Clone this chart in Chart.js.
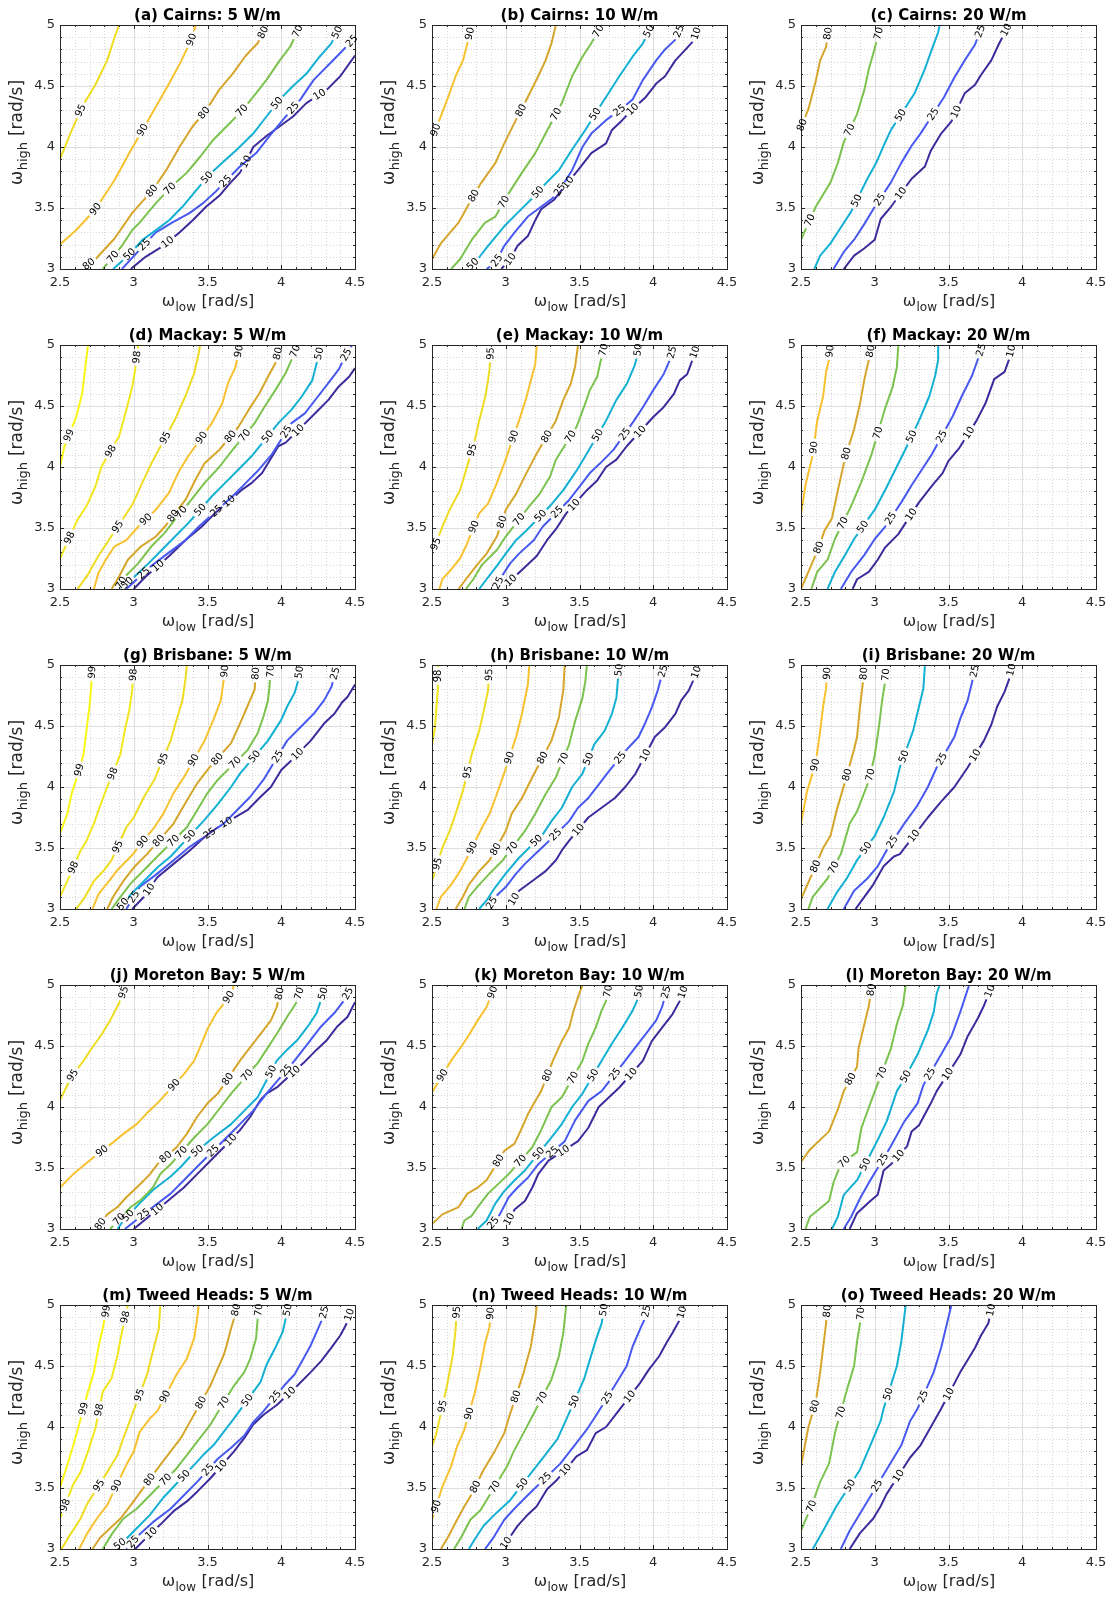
<!DOCTYPE html>
<html>
<head>
<meta charset="utf-8">
<script src="https://cdn.jsdelivr.net/npm/chart.js@4.4.1/dist/chart.umd.min.js"></script>
<style>
  html, body { margin: 0; padding: 0; background: #fff; overflow: hidden; }
  #grid { position: relative; width: 1116px; height: 1597px; }
  #grid canvas { position: absolute; }
</style>
</head>
<body>
<div id="grid"></div>
<script>
// axis ticks shared by all panels
const xTicks = [2.5, 3, 3.5, 4, 4.5];
const yTicks = [3, 3.5, 4, 4.5, 5];
const minorStep = 0.1;

// ---- Cairns ----
const cairns5Levels = [95, 90, 80, 70, 50, 25, 10];
const cairns5Lines = [
  [[2.5,3.9],[2.57,4.11],[2.65,4.33],[2.74,4.51],[2.82,4.71],[2.87,4.9],[2.9,5.0]],
  [[2.5,3.2],[2.61,3.32],[2.74,3.49],[2.87,3.73],[2.97,3.95],[3.06,4.14],[3.15,4.33],[3.24,4.52],[3.32,4.7],[3.39,4.88],[3.42,5.0]],
  [[2.65,3.0],[2.74,3.08],[2.87,3.25],[2.99,3.46],[3.13,3.65],[3.22,3.81],[3.31,4.0],[3.4,4.17],[3.49,4.3],[3.58,4.47],[3.67,4.6],[3.76,4.75],[3.84,4.85],[3.9,5.0]],
  [[2.79,3.0],[2.92,3.19],[2.99,3.32],[3.04,3.38],[3.15,3.54],[3.26,3.68],[3.36,3.79],[3.45,3.92],[3.54,4.06],[3.63,4.17],[3.72,4.28],[3.81,4.41],[3.9,4.55],[3.99,4.71],[4.06,4.82],[4.13,5.0]],
  [[2.86,3.0],[2.98,3.13],[3.06,3.24],[3.13,3.3],[3.24,3.4],[3.33,3.51],[3.42,3.64],[3.51,3.77],[3.6,3.87],[3.7,3.98],[3.81,4.11],[3.9,4.25],[3.99,4.39],[4.08,4.5],[4.17,4.6],[4.26,4.74],[4.34,4.85],[4.4,4.99]],
  [[2.92,3.0],[3.08,3.21],[3.15,3.3],[3.26,3.38],[3.38,3.46],[3.47,3.54],[3.56,3.64],[3.63,3.73],[3.72,3.84],[3.83,3.95],[3.92,4.09],[4.01,4.22],[4.13,4.39],[4.22,4.55],[4.31,4.66],[4.4,4.77],[4.47,4.86],[4.5,4.9]],
  [[2.98,3.0],[3.08,3.1],[3.2,3.19],[3.31,3.3],[3.4,3.4],[3.49,3.51],[3.58,3.6],[3.65,3.7],[3.72,3.79],[3.77,3.9],[3.81,4.0],[3.9,4.09],[3.99,4.17],[4.08,4.25],[4.17,4.36],[4.31,4.47],[4.4,4.58],[4.5,4.75]]
];
const cairns5LabelAt = [[4.3], [3.49, 4.14, 4.88], [3.04, 3.64, 4.28, 4.94], [3.1, 3.66, 4.3, 4.95], [3.12, 3.75, 4.36, 4.94], [3.2, 3.72, 4.32, 4.87], [3.22, 3.88, 4.43]];

const cairns10Levels = [90, 80, 70, 50, 25, 10];
const cairns10Lines = [
  [[2.5,4.06],[2.55,4.22],[2.61,4.41],[2.66,4.58],[2.71,4.71],[2.74,4.85],[2.77,5.0]],
  [[2.5,3.08],[2.56,3.21],[2.68,3.38],[2.74,3.51],[2.83,3.7],[2.93,3.87],[2.99,4.03],[3.06,4.2],[3.15,4.41],[3.22,4.58],[3.27,4.71],[3.31,4.85],[3.34,5.0]],
  [[2.63,3.0],[2.69,3.08],[2.77,3.24],[2.86,3.38],[2.93,3.43],[3.02,3.62],[3.11,3.79],[3.2,3.95],[3.27,4.11],[3.38,4.36],[3.45,4.58],[3.52,4.74],[3.58,4.85],[3.65,5.0]],
  [[2.74,3.0],[2.81,3.08],[2.88,3.19],[2.99,3.35],[3.08,3.46],[3.18,3.58],[3.27,3.7],[3.36,3.81],[3.45,3.98],[3.54,4.14],[3.6,4.26],[3.68,4.41],[3.77,4.58],[3.86,4.74],[3.93,4.85],[3.99,5.0]],
  [[2.87,3.0],[2.93,3.05],[2.99,3.19],[3.06,3.3],[3.15,3.43],[3.24,3.51],[3.34,3.6],[3.45,3.81],[3.52,4.0],[3.58,4.11],[3.68,4.22],[3.77,4.3],[3.86,4.39],[3.93,4.55],[4.02,4.71],[4.08,4.8],[4.15,4.88],[4.19,5.0]],
  [[2.97,3.0],[3.03,3.08],[3.08,3.19],[3.15,3.27],[3.2,3.4],[3.24,3.49],[3.33,3.57],[3.4,3.68],[3.49,3.81],[3.58,3.95],[3.68,4.03],[3.72,4.14],[3.79,4.22],[3.86,4.31],[3.95,4.41],[4.02,4.52],[4.08,4.58],[4.15,4.71],[4.22,4.8],[4.28,4.88],[4.3,4.97]]
];
const cairns10LabelAt = [[4.14, 4.93], [3.6, 4.3], [3.55, 4.27, 4.95], [3.04, 3.63, 4.27, 4.95], [3.07, 3.65, 4.3, 4.95], [3.08, 3.71, 4.31, 4.93]];

const cairns20Levels = [80, 70, 50, 25, 10];
const cairns20Lines = [
  [[2.5,4.16],[2.55,4.31],[2.6,4.54],[2.63,4.71],[2.67,4.82],[2.69,5.0]],
  [[2.5,3.24],[2.6,3.51],[2.65,3.61],[2.7,3.71],[2.75,3.87],[2.79,4.04],[2.88,4.27],[2.93,4.47],[2.96,4.64],[3.0,4.81],[3.04,5.0]],
  [[2.59,3.0],[2.63,3.11],[2.7,3.21],[2.77,3.34],[2.84,3.47],[2.95,3.74],[3.01,3.87],[3.06,4.01],[3.11,4.14],[3.18,4.27],[3.27,4.44],[3.34,4.64],[3.39,4.81],[3.43,4.94],[3.44,5.0]],
  [[2.72,3.0],[2.79,3.14],[2.86,3.24],[2.93,3.37],[3.0,3.51],[3.11,3.71],[3.18,3.87],[3.25,4.01],[3.31,4.11],[3.38,4.24],[3.47,4.41],[3.54,4.57],[3.61,4.71],[3.68,4.84],[3.72,4.97]],
  [[2.79,3.0],[2.86,3.11],[2.93,3.17],[3.0,3.24],[3.04,3.41],[3.11,3.51],[3.25,3.74],[3.34,3.84],[3.38,3.97],[3.45,4.11],[3.52,4.21],[3.61,4.44],[3.68,4.51],[3.72,4.59],[3.79,4.71],[3.84,4.84],[3.87,4.91],[3.9,4.98]]
];
const cairns20LabelAt = [[4.18, 4.93], [3.4, 4.14, 4.93], [3.56, 4.26], [3.57, 4.27, 4.95], [3.62, 4.29, 4.96]];

// ---- Mackay ----
const mackay5Levels = [99, 98, 95, 90, 80, 70, 50, 25, 10];
const mackay5Lines = [
  [[2.5,4.0],[2.53,4.17],[2.61,4.41],[2.65,4.6],[2.67,4.8],[2.69,5.0]],
  [[2.5,3.25],[2.62,3.57],[2.68,3.68],[2.74,3.84],[2.78,4.0],[2.9,4.25],[2.95,4.47],[2.99,4.66],[3.01,4.8],[3.03,5.0]],
  [[2.62,3.0],[2.69,3.12],[2.76,3.27],[2.83,3.4],[2.99,3.69],[3.05,3.85],[3.12,4.03],[3.28,4.39],[3.35,4.58],[3.41,4.77],[3.44,4.93],[3.45,5.0]],
  [[2.73,3.0],[2.76,3.13],[2.81,3.24],[2.87,3.35],[2.95,3.4],[3.03,3.51],[3.15,3.65],[3.24,3.79],[3.3,3.95],[3.37,4.09],[3.53,4.36],[3.6,4.52],[3.64,4.69],[3.69,4.82],[3.72,5.0]],
  [[2.85,3.0],[2.9,3.1],[2.96,3.24],[3.05,3.35],[3.15,3.43],[3.21,3.51],[3.35,3.73],[3.42,3.9],[3.48,4.03],[3.58,4.14],[3.71,4.33],[3.78,4.47],[3.85,4.6],[3.91,4.74],[3.96,4.85],[3.99,5.0]],
  [[2.89,3.0],[2.94,3.1],[3.03,3.21],[3.12,3.35],[3.21,3.46],[3.28,3.57],[3.39,3.73],[3.48,3.87],[3.58,4.0],[3.67,4.14],[3.82,4.36],[3.89,4.5],[3.96,4.63],[4.03,4.77],[4.07,4.88],[4.11,5.0]],
  [[2.91,3.0],[3.03,3.13],[3.1,3.21],[3.19,3.32],[3.28,3.43],[3.37,3.54],[3.53,3.76],[3.62,3.87],[3.71,3.98],[3.8,4.09],[3.98,4.36],[4.07,4.47],[4.14,4.58],[4.21,4.71],[4.24,4.85],[4.27,5.0]],
  [[2.95,3.0],[3.12,3.19],[3.24,3.3],[3.35,3.4],[3.44,3.51],[3.67,3.76],[3.76,3.87],[3.85,3.98],[3.94,4.11],[4.07,4.36],[4.16,4.44],[4.25,4.58],[4.32,4.69],[4.39,4.8],[4.43,4.9],[4.48,5.0]],
  [[3.0,3.0],[3.08,3.1],[3.24,3.27],[3.35,3.4],[3.46,3.51],[3.55,3.62],[3.73,3.81],[3.8,3.87],[3.87,3.95],[3.91,4.03],[3.98,4.17],[4.03,4.2],[4.23,4.44],[4.32,4.55],[4.39,4.66],[4.46,4.74],[4.5,4.81]]
];
const mackay5LabelAt = [[4.26], [3.42, 4.13, 4.9], [3.51, 4.24], [3.57, 4.24, 4.95], [3.6, 4.25, 4.93], [3.05, 3.63, 4.26, 4.95], [3.05, 3.65, 4.25, 4.93], [3.13, 3.64, 4.29, 4.92], [3.19, 3.72, 4.3]];

const mackay10Levels = [95, 90, 80, 70, 50, 25, 10];
const mackay10Lines = [
  [[2.5,3.29],[2.57,3.51],[2.62,3.65],[2.69,3.81],[2.73,3.97],[2.79,4.22],[2.82,4.38],[2.86,4.57],[2.88,4.71],[2.89,4.8],[2.9,5.0]],
  [[2.55,3.0],[2.57,3.08],[2.63,3.16],[2.69,3.25],[2.73,3.35],[2.82,3.62],[2.88,3.7],[2.94,3.87],[2.99,4.03],[3.09,4.38],[3.14,4.57],[3.17,4.71],[3.2,4.84],[3.21,5.0]],
  [[2.68,3.0],[2.73,3.08],[2.8,3.19],[2.87,3.29],[2.94,3.43],[3.0,3.65],[3.07,3.78],[3.14,3.95],[3.21,4.11],[3.34,4.38],[3.39,4.55],[3.44,4.68],[3.47,4.82],[3.49,5.0]],
  [[2.73,3.0],[2.78,3.08],[2.84,3.2],[2.94,3.32],[3.0,3.43],[3.16,3.68],[3.23,3.78],[3.3,3.92],[3.34,4.06],[3.48,4.33],[3.53,4.49],[3.57,4.63],[3.62,4.74],[3.64,4.85],[3.67,5.0]],
  [[2.82,3.0],[2.87,3.08],[2.94,3.19],[3.0,3.29],[3.07,3.4],[3.14,3.48],[3.3,3.68],[3.39,3.81],[3.48,3.97],[3.55,4.11],[3.68,4.38],[3.75,4.55],[3.82,4.68],[3.87,4.82],[3.89,4.9],[3.9,5.0]],
  [[2.93,3.0],[2.96,3.08],[3.03,3.21],[3.09,3.29],[3.19,3.4],[3.25,3.51],[3.43,3.73],[3.5,3.84],[3.57,3.95],[3.64,4.03],[3.73,4.14],[3.87,4.38],[3.93,4.49],[4.0,4.63],[4.07,4.76],[4.11,4.87],[4.14,5.0]],
  [[2.99,3.02],[3.06,3.1],[3.14,3.19],[3.21,3.27],[3.28,3.4],[3.34,3.49],[3.41,3.62],[3.55,3.81],[3.62,3.89],[3.68,4.0],[3.75,4.06],[3.82,4.17],[4.0,4.41],[4.07,4.49],[4.14,4.6],[4.18,4.71],[4.23,4.76],[4.26,4.86],[4.29,4.97]]
];
const mackay10LabelAt = [[3.37, 4.14, 4.93], [3.51, 4.25], [3.55, 4.25], [3.57, 4.25, 4.96], [3.6, 4.26, 4.96], [3.05, 3.63, 4.27, 4.94], [3.07, 3.69, 4.29, 4.94]];

const mackay20Levels = [90, 80, 70, 50, 25, 10];
const mackay20Lines = [
  [[2.5,3.61],[2.53,3.85],[2.58,4.1],[2.61,4.38],[2.65,4.58],[2.67,4.78],[2.69,4.88],[2.7,5.0]],
  [[2.5,3.0],[2.55,3.14],[2.62,3.34],[2.66,3.48],[2.71,3.58],[2.75,3.81],[2.8,4.08],[2.86,4.31],[2.9,4.52],[2.93,4.72],[2.96,4.88],[2.98,5.0]],
  [[2.57,3.0],[2.61,3.14],[2.68,3.24],[2.73,3.41],[2.84,3.68],[2.91,3.88],[2.98,4.11],[3.07,4.48],[3.12,4.65],[3.15,4.82],[3.16,5.0]],
  [[2.68,3.0],[2.73,3.14],[2.8,3.28],[2.86,3.41],[3.0,3.65],[3.07,3.81],[3.14,3.98],[3.21,4.15],[3.3,4.38],[3.37,4.58],[3.41,4.75],[3.43,4.88],[3.43,5.0]],
  [[2.77,3.0],[2.84,3.14],[2.93,3.28],[3.0,3.41],[3.07,3.51],[3.18,3.71],[3.25,3.85],[3.32,3.98],[3.39,4.11],[3.53,4.42],[3.59,4.58],[3.66,4.75],[3.71,4.92],[3.73,5.0]],
  [[2.85,3.0],[2.88,3.08],[2.96,3.14],[3.02,3.24],[3.07,3.34],[3.16,3.45],[3.3,3.71],[3.39,3.85],[3.46,3.95],[3.5,4.05],[3.57,4.15],[3.69,4.38],[3.75,4.52],[3.81,4.72],[3.88,4.78],[3.91,4.88],[3.93,4.98]]
];
const mackay20LabelAt = [[4.16, 4.95], [3.34, 4.11, 4.95], [3.54, 4.28], [3.51, 4.25], [3.58, 4.25, 4.96], [3.61, 4.28, 4.95]];

// ---- Brisbane ----
const brisbane5Levels = [99, 98, 95, 90, 80, 70, 50, 25, 10];
const brisbane5Lines = [
  [[2.5,3.62],[2.55,3.78],[2.58,3.95],[2.61,4.06],[2.66,4.27],[2.68,4.47],[2.7,4.66],[2.71,4.8],[2.72,5.0]],
  [[2.5,3.1],[2.55,3.23],[2.64,3.48],[2.68,3.56],[2.73,3.7],[2.77,3.84],[2.82,4.0],[2.91,4.27],[2.94,4.47],[2.97,4.63],[2.99,4.8],[3.0,5.0]],
  [[2.61,3.0],[2.67,3.1],[2.73,3.23],[2.8,3.32],[2.85,3.4],[2.95,3.67],[3.0,3.75],[3.07,3.92],[3.14,4.06],[3.25,4.38],[3.29,4.55],[3.33,4.71],[3.35,4.88],[3.36,5.0]],
  [[2.72,3.0],[2.76,3.12],[2.82,3.21],[2.89,3.32],[2.98,3.43],[3.14,3.67],[3.2,3.78],[3.27,3.95],[3.34,4.08],[3.48,4.38],[3.54,4.55],[3.59,4.71],[3.61,4.88],[3.62,5.0]],
  [[2.82,3.0],[2.86,3.1],[2.93,3.23],[3.0,3.34],[3.09,3.45],[3.27,3.7],[3.36,3.89],[3.43,4.03],[3.5,4.14],[3.66,4.36],[3.72,4.52],[3.77,4.66],[3.82,4.8],[3.83,5.0]],
  [[2.85,3.0],[2.91,3.1],[2.98,3.21],[3.07,3.32],[3.16,3.43],[3.36,3.67],[3.43,3.81],[3.5,3.95],[3.57,4.06],[3.77,4.3],[3.84,4.44],[3.88,4.58],[3.91,4.71],[3.92,4.82],[3.93,5.0]],
  [[2.9,3.0],[2.98,3.12],[3.07,3.23],[3.16,3.34],[3.25,3.43],[3.48,3.73],[3.57,3.86],[3.66,4.0],[3.72,4.11],[3.91,4.38],[4.0,4.55],[4.04,4.66],[4.09,4.77],[4.11,4.85],[4.13,5.0]],
  [[2.95,3.0],[3.04,3.18],[3.16,3.29],[3.27,3.4],[3.38,3.51],[3.61,3.7],[3.7,3.81],[3.79,3.92],[3.88,4.06],[4.04,4.38],[4.13,4.49],[4.22,4.6],[4.29,4.71],[4.34,4.82],[4.38,5.0]],
  [[2.99,3.0],[3.07,3.1],[3.16,3.26],[3.27,3.37],[3.38,3.48],[3.48,3.59],[3.57,3.67],[3.77,3.81],[3.86,3.92],[3.93,4.0],[4.0,4.14],[4.07,4.22],[4.2,4.38],[4.29,4.52],[4.36,4.6],[4.41,4.69],[4.45,4.74],[4.5,4.84]]
];
const brisbane5LabelAt = [[4.14, 4.94], [3.34, 4.11, 4.92], [3.51, 4.23], [3.55, 4.22, 4.95], [3.56, 4.23, 4.93], [3.56, 4.2, 4.95], [3.04, 3.6, 4.25, 4.94], [3.1, 3.62, 4.25, 4.93], [3.16, 3.71, 4.27]];

const brisbane10Levels = [98, 95, 90, 80, 70, 50, 25, 10];
const brisbane10Lines = [
  [[2.5,4.34],[2.52,4.49],[2.53,4.65],[2.54,4.81],[2.54,5.0]],
  [[2.5,3.23],[2.57,3.5],[2.62,3.64],[2.66,3.78],[2.71,3.97],[2.77,4.27],[2.82,4.46],[2.85,4.62],[2.88,4.79],[2.89,5.0]],
  [[2.53,3.0],[2.56,3.1],[2.63,3.2],[2.68,3.29],[2.73,3.4],[2.84,3.67],[2.89,3.78],[2.93,3.91],[2.98,4.08],[3.07,4.41],[3.11,4.6],[3.15,4.84],[3.16,5.0]],
  [[2.66,3.0],[2.71,3.1],[2.75,3.2],[2.82,3.31],[2.89,3.4],[3.0,3.64],[3.04,3.78],[3.11,3.91],[3.18,4.08],[3.31,4.38],[3.36,4.57],[3.39,4.79],[3.4,5.0]],
  [[2.72,3.0],[2.75,3.1],[2.82,3.2],[2.89,3.29],[2.98,3.4],[3.13,3.64],[3.2,3.78],[3.27,3.94],[3.34,4.08],[3.43,4.35],[3.47,4.54],[3.52,4.73],[3.54,4.87],[3.55,5.0]],
  [[2.82,3.0],[2.87,3.07],[2.93,3.18],[3.0,3.29],[3.09,3.42],[3.25,3.61],[3.31,3.72],[3.38,3.83],[3.45,4.0],[3.52,4.11],[3.6,4.35],[3.67,4.46],[3.72,4.6],[3.75,4.73],[3.76,4.87],[3.77,5.0]],
  [[2.88,3.0],[2.93,3.1],[3.0,3.18],[3.07,3.29],[3.13,3.37],[3.2,3.45],[3.27,3.53],[3.43,3.72],[3.49,3.83],[3.56,3.91],[3.63,4.02],[3.7,4.13],[3.83,4.32],[3.9,4.41],[3.94,4.51],[3.99,4.65],[4.03,4.79],[4.07,4.97]],
  [[3.04,3.05],[3.09,3.15],[3.18,3.23],[3.27,3.31],[3.34,3.4],[3.38,3.48],[3.43,3.56],[3.56,3.75],[3.65,3.83],[3.74,3.91],[3.81,4.0],[3.88,4.11],[4.01,4.41],[4.08,4.49],[4.15,4.6],[4.19,4.71],[4.24,4.79],[4.27,4.87],[4.3,4.97]]
];
const brisbane10LabelAt = [[4.91], [3.37, 4.12, 4.92], [3.5, 4.24], [3.49, 4.24], [3.5, 4.23], [3.56, 4.23, 4.96], [3.05, 3.61, 4.24, 4.95], [3.08, 3.65, 4.26, 4.94]];

const brisbane20Levels = [90, 80, 70, 50, 25, 10];
const brisbane20Lines = [
  [[2.5,3.7],[2.54,3.96],[2.6,4.2],[2.63,4.46],[2.65,4.66],[2.67,4.81],[2.68,5.0]],
  [[2.5,3.08],[2.58,3.3],[2.65,3.5],[2.7,3.6],[2.74,3.8],[2.8,4.05],[2.86,4.31],[2.88,4.41],[2.9,4.66],[2.92,4.86],[2.93,5.0]],
  [[2.55,3.0],[2.58,3.1],[2.68,3.25],[2.77,3.45],[2.83,3.7],[2.88,3.8],[2.96,4.05],[3.0,4.26],[3.03,4.51],[3.05,4.71],[3.07,4.86],[3.08,5.0]],
  [[2.68,3.0],[2.74,3.13],[2.81,3.25],[2.88,3.4],[3.0,3.6],[3.06,3.75],[3.13,3.96],[3.17,4.16],[3.26,4.46],[3.3,4.66],[3.33,4.81],[3.34,5.0]],
  [[2.79,3.0],[2.86,3.15],[2.95,3.25],[3.02,3.35],[3.08,3.48],[3.2,3.7],[3.29,3.85],[3.36,4.0],[3.42,4.16],[3.54,4.41],[3.58,4.56],[3.63,4.71],[3.66,4.86],[3.68,4.97]],
  [[2.87,3.0],[2.9,3.05],[2.99,3.2],[3.06,3.35],[3.13,3.43],[3.17,3.45],[3.36,3.75],[3.45,3.88],[3.54,4.0],[3.63,4.16],[3.74,4.38],[3.79,4.51],[3.83,4.66],[3.88,4.78],[3.91,4.88],[3.93,4.98]]
];
const brisbane20LabelAt = [[4.18, 4.93], [3.35, 4.1, 4.93], [3.34, 4.1, 4.92], [3.5, 4.25], [3.55, 4.23, 4.95], [3.6, 4.26, 4.96]];

// ---- Moreton Bay ----
const moreton5Levels = [95, 90, 80, 70, 50, 25, 10];
const moreton5Lines = [
  [[2.5,4.06],[2.58,4.25],[2.66,4.38],[2.72,4.49],[2.78,4.59],[2.84,4.71],[2.9,4.85],[2.93,4.94],[2.95,5.0]],
  [[2.5,3.34],[2.59,3.45],[2.67,3.53],[2.73,3.59],[2.86,3.71],[2.93,3.78],[3.02,3.86],[3.09,3.95],[3.16,4.03],[3.22,4.11],[3.34,4.27],[3.41,4.38],[3.45,4.49],[3.5,4.64],[3.56,4.77],[3.62,4.86],[3.66,4.93],[3.68,5.0]],
  [[2.75,3.0],[2.82,3.12],[2.89,3.18],[2.95,3.26],[3.02,3.34],[3.07,3.4],[3.11,3.45],[3.16,3.53],[3.29,3.67],[3.36,3.78],[3.43,3.92],[3.5,4.03],[3.57,4.11],[3.72,4.38],[3.79,4.49],[3.86,4.6],[3.93,4.71],[3.97,4.82],[4.0,5.0]],
  [[2.84,3.0],[2.9,3.08],[2.98,3.18],[3.04,3.23],[3.09,3.29],[3.13,3.34],[3.18,3.45],[3.25,3.53],[3.41,3.75],[3.5,3.86],[3.59,4.0],[3.66,4.11],[3.84,4.36],[3.9,4.47],[3.97,4.6],[4.04,4.74],[4.1,4.85],[4.14,5.0]],
  [[2.89,3.0],[2.93,3.07],[3.04,3.21],[3.13,3.32],[3.25,3.43],[3.32,3.51],[3.38,3.59],[3.54,3.75],[3.66,3.86],[3.75,3.97],[3.84,4.08],[3.97,4.38],[4.04,4.47],[4.11,4.55],[4.18,4.66],[4.24,4.77],[4.27,4.88],[4.3,5.0]],
  [[2.94,3.0],[3.13,3.18],[3.25,3.29],[3.34,3.4],[3.43,3.51],[3.63,3.75],[3.72,3.86],[3.81,3.97],[3.9,4.11],[4.09,4.38],[4.18,4.52],[4.27,4.66],[4.36,4.77],[4.43,4.88],[4.48,5.0]],
  [[3.0,3.0],[3.07,3.07],[3.23,3.23],[3.34,3.34],[3.43,3.45],[3.52,3.56],[3.61,3.67],[3.72,3.81],[3.79,3.92],[3.86,4.06],[3.9,4.11],[3.97,4.16],[4.15,4.36],[4.24,4.47],[4.31,4.55],[4.38,4.66],[4.45,4.74],[4.5,4.86]]
];
const moreton5LabelAt = [[4.26, 4.94], [3.64, 4.18, 4.9], [3.04, 3.59, 4.23, 4.93], [3.08, 3.63, 4.26, 4.93], [3.11, 3.64, 4.29, 4.93], [3.12, 3.64, 4.3, 4.93], [3.16, 3.73, 4.29]];

const moreton10Levels = [90, 80, 70, 50, 25, 10];
const moreton10Lines = [
  [[2.5,4.12],[2.57,4.26],[2.63,4.38],[2.69,4.48],[2.74,4.57],[2.81,4.71],[2.87,4.82],[2.91,4.94],[2.93,5.0]],
  [[2.5,3.04],[2.57,3.12],[2.68,3.18],[2.74,3.29],[2.81,3.34],[2.87,3.4],[2.99,3.64],[3.06,3.7],[3.11,3.83],[3.15,3.94],[3.2,4.05],[3.24,4.13],[3.32,4.38],[3.38,4.54],[3.43,4.65],[3.46,4.79],[3.49,4.9],[3.52,5.0]],
  [[2.7,3.0],[2.72,3.07],[2.77,3.11],[2.81,3.18],[2.88,3.29],[2.95,3.37],[3.02,3.45],[3.18,3.67],[3.24,3.81],[3.31,4.0],[3.38,4.08],[3.52,4.38],[3.56,4.52],[3.61,4.65],[3.65,4.79],[3.68,4.87],[3.7,5.0]],
  [[2.81,3.0],[2.87,3.07],[2.93,3.21],[2.99,3.31],[3.06,3.4],[3.13,3.48],[3.29,3.72],[3.38,3.86],[3.45,4.0],[3.52,4.11],[3.65,4.38],[3.72,4.52],[3.79,4.65],[3.86,4.79],[3.89,4.87],[3.91,5.0]],
  [[2.88,3.0],[2.96,3.12],[3.02,3.26],[3.08,3.34],[3.15,3.42],[3.22,3.53],[3.4,3.72],[3.47,3.89],[3.56,4.05],[3.65,4.13],[3.81,4.38],[3.88,4.49],[3.95,4.6],[4.02,4.71],[4.06,4.82],[4.1,5.0]],
  [[3.0,3.03],[3.06,3.16],[3.13,3.23],[3.18,3.34],[3.22,3.45],[3.29,3.56],[3.49,3.72],[3.56,3.83],[3.63,4.0],[3.7,4.08],[3.77,4.16],[3.93,4.38],[3.99,4.54],[4.06,4.65],[4.13,4.76],[4.18,4.87],[4.21,4.97]]
];
const moreton10LabelAt = [[4.26, 4.94], [3.56, 4.26], [3.56, 4.24, 4.95], [3.62, 4.26, 4.95], [3.05, 3.63, 4.27, 4.94], [3.08, 3.64, 4.27, 4.94]];

const moreton20Levels = [80, 70, 50, 25, 10];
const moreton20Lines = [
  [[2.5,3.55],[2.56,3.65],[2.69,3.8],[2.75,3.98],[2.79,4.13],[2.88,4.33],[2.89,4.48],[2.93,4.68],[2.96,4.83],[2.98,5.0]],
  [[2.53,3.0],[2.56,3.1],[2.69,3.23],[2.72,3.38],[2.77,3.53],[2.88,3.63],[2.91,3.83],[2.97,4.03],[3.11,4.48],[3.15,4.68],[3.19,4.83],[3.21,5.0]],
  [[2.71,3.0],[2.75,3.1],[2.79,3.28],[2.88,3.4],[3.02,3.73],[3.08,3.88],[3.15,4.13],[3.2,4.23],[3.29,4.43],[3.36,4.63],[3.4,4.78],[3.42,4.93],[3.44,5.0]],
  [[2.79,3.0],[2.84,3.1],[2.9,3.25],[2.96,3.38],[3.01,3.48],[3.11,3.68],[3.2,3.88],[3.29,4.03],[3.33,4.18],[3.45,4.43],[3.52,4.58],[3.58,4.78],[3.64,5.0]],
  [[2.83,3.0],[2.88,3.13],[2.97,3.23],[3.02,3.28],[3.06,3.48],[3.11,3.53],[3.22,3.68],[3.25,3.8],[3.3,3.85],[3.38,4.03],[3.42,4.13],[3.58,4.43],[3.63,4.58],[3.7,4.73],[3.74,4.83],[3.78,4.95]]
];
const moreton20LabelAt = [[4.23, 4.96], [3.55, 4.28], [3.53, 4.25], [3.57, 4.27], [3.6, 4.27, 4.95]];

// ---- Tweed Heads ----
const tweed5Levels = [99, 98, 95, 90, 80, 70, 50, 25, 10];
const tweed5Lines = [
  [[2.5,3.5],[2.55,3.69],[2.59,3.85],[2.63,4.02],[2.69,4.29],[2.73,4.45],[2.76,4.65],[2.79,4.81],[2.82,5.0]],
  [[2.5,3.25],[2.59,3.53],[2.64,3.63],[2.69,3.8],[2.74,3.99],[2.79,4.29],[2.85,4.4],[2.89,4.59],[2.92,4.78],[2.96,5.0]],
  [[2.51,3.0],[2.57,3.12],[2.64,3.25],[2.68,3.36],[2.82,3.63],[2.89,3.77],[2.93,3.91],[2.98,4.07],[3.09,4.43],[3.13,4.62],[3.17,4.81],[3.18,5.0]],
  [[2.63,3.0],[2.68,3.12],[2.75,3.25],[2.82,3.36],[2.95,3.69],[3.0,3.8],[3.04,3.96],[3.11,4.07],[3.16,4.13],[3.29,4.43],[3.36,4.56],[3.41,4.73],[3.43,4.89],[3.44,5.0]],
  [[2.72,3.0],[2.77,3.09],[2.84,3.17],[2.91,3.25],[2.98,3.36],[3.18,3.69],[3.25,3.8],[3.32,3.91],[3.38,4.04],[3.52,4.34],[3.57,4.48],[3.61,4.59],[3.63,4.67],[3.66,4.81],[3.68,4.89],[3.7,5.0]],
  [[2.79,3.0],[2.85,3.12],[2.93,3.25],[3.02,3.33],[3.11,3.44],[3.29,3.66],[3.36,3.77],[3.43,3.88],[3.52,4.02],[3.68,4.34],[3.75,4.45],[3.79,4.56],[3.83,4.73],[3.84,4.89],[3.85,5.0]],
  [[2.86,3.0],[2.93,3.06],[3.02,3.17],[3.11,3.28],[3.2,3.42],[3.27,3.51],[3.41,3.69],[3.47,3.77],[3.54,3.85],[3.61,3.96],[3.68,4.07],[3.86,4.37],[3.9,4.51],[3.96,4.65],[4.01,4.78],[4.03,4.89],[4.05,5.0]],
  [[2.95,3.0],[3.04,3.12],[3.13,3.22],[3.25,3.33],[3.34,3.44],[3.43,3.55],[3.57,3.74],[3.66,3.83],[3.75,3.93],[3.81,4.04],[3.88,4.13],[4.02,4.34],[4.09,4.43],[4.15,4.56],[4.2,4.67],[4.24,4.78],[4.28,4.89],[4.3,5.0]],
  [[3.01,3.0],[3.1,3.11],[3.18,3.2],[3.27,3.31],[3.36,3.39],[3.43,3.47],[3.52,3.58],[3.68,3.8],[3.75,3.91],[3.81,4.02],[3.88,4.1],[3.97,4.18],[4.11,4.34],[4.2,4.45],[4.27,4.54],[4.34,4.65],[4.4,4.75],[4.44,4.84],[4.47,4.95]]
];
const tweed5LabelAt = [[4.15, 4.95], [3.36, 4.14, 4.9], [3.52, 4.26], [3.52, 4.25], [3.57, 4.2, 4.96], [3.57, 4.2, 4.96], [3.04, 3.6, 4.22, 4.96], [3.06, 3.65, 4.25, 4.94], [3.13, 3.68, 4.28, 4.92]];

const tweed10Levels = [95, 90, 80, 70, 50, 25, 10];
const tweed10Lines = [
  [[2.5,3.84],[2.53,3.95],[2.6,4.33],[2.64,4.58],[2.66,4.8],[2.67,5.0]],
  [[2.5,3.24],[2.57,3.51],[2.63,3.68],[2.67,3.84],[2.72,3.98],[2.79,4.28],[2.83,4.5],[2.86,4.69],[2.89,4.82],[2.9,5.0]],
  [[2.56,3.0],[2.61,3.1],[2.67,3.24],[2.72,3.35],[2.76,3.43],[2.85,3.65],[2.92,3.79],[2.99,3.95],[3.03,4.11],[3.12,4.44],[3.17,4.66],[3.2,4.88],[3.21,5.0]],
  [[2.65,3.0],[2.7,3.1],[2.76,3.24],[2.83,3.32],[3.01,3.68],[3.05,3.79],[3.12,3.95],[3.19,4.11],[3.31,4.39],[3.36,4.58],[3.39,4.77],[3.41,5.0]],
  [[2.75,3.0],[2.79,3.08],[2.85,3.19],[2.94,3.3],[3.03,3.4],[3.17,3.62],[3.26,3.76],[3.35,3.9],[3.41,4.06],[3.53,4.39],[3.57,4.55],[3.61,4.71],[3.65,4.85],[3.67,5.0]],
  [[2.86,3.0],[2.92,3.1],[2.99,3.24],[3.05,3.32],[3.14,3.43],[3.37,3.7],[3.46,3.84],[3.55,3.98],[3.61,4.09],[3.75,4.36],[3.82,4.5],[3.86,4.66],[3.91,4.8],[3.94,4.88],[3.96,5.0]],
  [[2.99,3.03],[3.03,3.1],[3.08,3.19],[3.14,3.27],[3.21,3.35],[3.28,3.49],[3.35,3.57],[3.48,3.76],[3.55,3.81],[3.61,3.95],[3.68,4.0],[3.75,4.11],[3.91,4.36],[3.97,4.47],[4.04,4.58],[4.09,4.69],[4.13,4.77],[4.18,4.88],[4.2,4.97]]
];
const tweed10LabelAt = [[4.17, 4.94], [3.35, 4.11, 4.93], [3.51, 4.25], [3.51, 4.24], [3.53, 4.21, 4.96], [3.58, 4.24, 4.95], [3.05, 3.65, 4.25, 4.94]];

const tweed20Levels = [80, 70, 50, 25, 10];
const tweed20Lines = [
  [[2.5,3.68],[2.55,4.0],[2.6,4.2],[2.63,4.45],[2.65,4.65],[2.67,4.85],[2.68,5.0]],
  [[2.5,3.15],[2.57,3.35],[2.63,3.55],[2.69,3.7],[2.73,3.95],[2.81,4.3],[2.86,4.5],[2.88,4.7],[2.9,4.85],[2.91,5.0]],
  [[2.58,3.0],[2.65,3.15],[2.74,3.35],[2.9,3.65],[2.97,3.85],[3.04,4.05],[3.06,4.15],[3.15,4.5],[3.18,4.7],[3.2,4.9],[3.21,5.0]],
  [[2.77,3.0],[2.83,3.15],[2.93,3.35],[3.08,3.65],[3.18,3.85],[3.24,4.05],[3.29,4.15],[3.4,4.45],[3.45,4.65],[3.49,4.85],[3.52,5.0]],
  [[2.83,3.0],[2.9,3.13],[2.99,3.25],[3.04,3.35],[3.08,3.45],[3.24,3.75],[3.31,3.85],[3.38,4.0],[3.45,4.15],[3.58,4.45],[3.63,4.55],[3.68,4.65],[3.72,4.75],[3.77,4.85],[3.79,4.97]]
];
const tweed20LabelAt = [[4.17, 4.95], [3.35, 4.12, 4.93], [3.52, 4.27], [3.52, 4.25], [3.6, 4.27, 4.96]];

const panelTitles = [
  '(a) Cairns: 5 W/m', '(b) Cairns: 10 W/m', '(c) Cairns: 20 W/m',
  '(d) Mackay: 5 W/m', '(e) Mackay: 10 W/m', '(f) Mackay: 20 W/m',
  '(g) Brisbane: 5 W/m', '(h) Brisbane: 10 W/m', '(i) Brisbane: 20 W/m',
  '(j) Moreton Bay: 5 W/m', '(k) Moreton Bay: 10 W/m', '(l) Moreton Bay: 20 W/m',
  '(m) Tweed Heads: 5 W/m', '(n) Tweed Heads: 10 W/m', '(o) Tweed Heads: 20 W/m'
];

// one entry per panel, row by row
const panels = [
  [cairns5Levels, cairns5Lines, cairns5LabelAt], [cairns10Levels, cairns10Lines, cairns10LabelAt], [cairns20Levels, cairns20Lines, cairns20LabelAt],
  [mackay5Levels, mackay5Lines, mackay5LabelAt], [mackay10Levels, mackay10Lines, mackay10LabelAt], [mackay20Levels, mackay20Lines, mackay20LabelAt],
  [brisbane5Levels, brisbane5Lines, brisbane5LabelAt], [brisbane10Levels, brisbane10Lines, brisbane10LabelAt], [brisbane20Levels, brisbane20Lines, brisbane20LabelAt],
  [moreton5Levels, moreton5Lines, moreton5LabelAt], [moreton10Levels, moreton10Lines, moreton10LabelAt], [moreton20Levels, moreton20Lines, moreton20LabelAt],
  [tweed5Levels, tweed5Lines, tweed5LabelAt], [tweed10Levels, tweed10Lines, tweed10LabelAt], [tweed20Levels, tweed20Lines, tweed20LabelAt]
].map(([levels, lines, labelAt], i) => ({ title: panelTitles[i], levels, lines, labelAt }));

// ---- styling ----
const FONT = '"DejaVu Sans", "Liberation Sans", sans-serif';
const TXT = '#262626';
const LEVEL_COLORS = {
  10: '#3d2b9c', 25: '#4859ef', 50: '#14b0d4', 70: '#7bc24f',
  80: '#d6a52b', 90: '#f7c12f', 95: '#eedc22', 98: '#f2e61d', 99: '#f8f612'
};
const LABEL_FONT = '10px ' + FONT;
const CANVAS_W = 372, CANVAS_H = 320;
const colLeft = [0, 372, 741];
const pad = { left: 60, top: 25, right: 17, bottom: 51 };

function pointAt(pts, cum, s) {
  const total = cum[cum.length - 1];
  s = Math.max(0, Math.min(total, s));
  let j = 1;
  while (j < cum.length - 1 && cum[j] < s) j++;
  const seg = cum[j] - cum[j - 1] || 1;
  const t = (s - cum[j - 1]) / seg;
  return [pts[j - 1][0] + t * (pts[j][0] - pts[j - 1][0]),
          pts[j - 1][1] + t * (pts[j][1] - pts[j - 1][1])];
}

// where each inline level label sits, in pixels, with its angle along the line
function placeLabels(chart, panel) {
  const { ctx, scales: { x, y } } = chart;
  ctx.save();
  ctx.font = LABEL_FONT;
  const out = panel.lines.map((line, i) => {
    const pts = line.map(p => [x.getPixelForValue(p[0]), y.getPixelForValue(p[1])]);
    const cum = [0];
    for (let k = 1; k < pts.length; k++) {
      cum.push(cum[k - 1] + Math.hypot(pts[k][0] - pts[k - 1][0], pts[k][1] - pts[k - 1][1]));
    }
    const text = String(panel.levels[i]);
    const w = ctx.measureText(text).width;
    return panel.labelAt[i].map(yv => {
      let k = 0;
      while (k < line.length - 1 && (line[k][1] - yv) * (line[k + 1][1] - yv) > 0) k++;
      if (k >= line.length - 1) return null;
      const dy = line[k + 1][1] - line[k][1];
      const t = dy === 0 ? 0 : (yv - line[k][1]) / dy;
      const s = cum[k] + t * (cum[k + 1] - cum[k]);
      const c = pointAt(pts, cum, s);
      const p0 = pointAt(pts, cum, s - 8), p1 = pointAt(pts, cum, s + 8);
      let ang = Math.atan2(p1[1] - p0[1], p1[0] - p0[0]);
      if (ang > Math.PI / 2) ang -= Math.PI;
      if (ang < -Math.PI / 2) ang += Math.PI;
      return { x: c[0], y: c[1], ang, text, w };
    }).filter(Boolean);
  });
  ctx.restore();
  return out;
}

// "ω" + subscript + rest, centred on cx
function drawSubText(ctx, main, sub, rest, cx, baseY, size) {
  const big = size + 'px ' + FONT, small = Math.round(size * 0.76) + 'px ' + FONT;
  ctx.font = big;
  const w1 = ctx.measureText(main).width, w3 = ctx.measureText(rest).width;
  ctx.font = small;
  const w2 = ctx.measureText(sub).width;
  const x0 = cx - (w1 + w2 + w3) / 2;
  ctx.textAlign = 'left';
  ctx.textBaseline = 'alphabetic';
  ctx.font = big;
  ctx.fillText(main, x0, baseY);
  ctx.font = small;
  ctx.fillText(sub, x0 + w1 + 0.5, baseY + 5);
  ctx.font = big;
  ctx.fillText(rest, x0 + w1 + w2 + 1, baseY);
}

function makePanelPlugin(panel) {
  let labels = [];
  let clipped = false;
  return {
    id: 'contourPanel',
    beforeDatasetsDraw(chart) {
      const { ctx, chartArea: a, scales: { x, y } } = chart;
      labels = placeLabels(chart, panel);
      ctx.save();
      ctx.lineWidth = 1;
      // dotted minor grid
      ctx.strokeStyle = '#d6d6d6';
      ctx.setLineDash([1, 2]);
      ctx.beginPath();
      for (let v = x.min + minorStep; v < x.max - 1e-6; v += minorStep) {
        if (xTicks.some(t => Math.abs(t - v) < 1e-6)) continue;
        const px = Math.round(x.getPixelForValue(v)) + 0.5;
        ctx.moveTo(px, a.top); ctx.lineTo(px, a.bottom);
      }
      for (let v = y.min + minorStep; v < y.max - 1e-6; v += minorStep) {
        if (yTicks.some(t => Math.abs(t - v) < 1e-6)) continue;
        const py = Math.round(y.getPixelForValue(v)) + 0.5;
        ctx.moveTo(a.left, py); ctx.lineTo(a.right, py);
      }
      ctx.stroke();
      // solid major grid
      ctx.setLineDash([]);
      ctx.strokeStyle = '#dedede';
      ctx.beginPath();
      xTicks.forEach(v => {
        const px = Math.round(x.getPixelForValue(v)) + 0.5;
        ctx.moveTo(px, a.top); ctx.lineTo(px, a.bottom);
      });
      yTicks.forEach(v => {
        const py = Math.round(y.getPixelForValue(v)) + 0.5;
        ctx.moveTo(a.left, py); ctx.lineTo(a.right, py);
      });
      ctx.stroke();
      ctx.restore();
    },
    beforeDatasetDraw(chart, args) {
      const items = labels[args.index] || [];
      clipped = items.length > 0;
      if (!clipped) return;
      const ctx = chart.ctx;
      ctx.save();
      ctx.beginPath();
      ctx.rect(0, 0, chart.width, chart.height);
      items.forEach(it => {
        const hw = it.w / 2 + 2.5, hh = 7;
        const c = Math.cos(it.ang), s = Math.sin(it.ang);
        const corners = [[-hw, -hh], [hw, -hh], [hw, hh], [-hw, hh]]
          .map(([u, v]) => [it.x + u * c - v * s, it.y + u * s + v * c]);
        ctx.moveTo(corners[0][0], corners[0][1]);
        corners.slice(1).forEach(p => ctx.lineTo(p[0], p[1]));
        ctx.closePath();
      });
      ctx.clip('evenodd');
    },
    afterDatasetDraw(chart) {
      if (clipped) chart.ctx.restore();
      clipped = false;
    },
    afterDatasetsDraw(chart) {
      const { ctx, chartArea: a, scales: { x, y } } = chart;
      ctx.save();
      // axes box with inward ticks
      ctx.strokeStyle = TXT;
      ctx.lineWidth = 1;
      ctx.strokeRect(Math.round(a.left) + 0.5, Math.round(a.top) + 0.5,
                     Math.round(a.right - a.left), Math.round(a.bottom - a.top));
      ctx.beginPath();
      for (let v = x.min; v <= x.max + 1e-6; v += minorStep) {
        const len = xTicks.some(t => Math.abs(t - v) < 1e-6) ? 4 : 2;
        const px = Math.round(x.getPixelForValue(v)) + 0.5;
        ctx.moveTo(px, a.bottom); ctx.lineTo(px, a.bottom - len);
        ctx.moveTo(px, a.top); ctx.lineTo(px, a.top + len);
      }
      for (let v = y.min; v <= y.max + 1e-6; v += minorStep) {
        const len = yTicks.some(t => Math.abs(t - v) < 1e-6) ? 4 : 2;
        const py = Math.round(y.getPixelForValue(v)) + 0.5;
        ctx.moveTo(a.left, py); ctx.lineTo(a.left + len, py);
        ctx.moveTo(a.right, py); ctx.lineTo(a.right - len, py);
      }
      ctx.stroke();
      // inline level labels
      ctx.font = LABEL_FONT;
      ctx.fillStyle = '#000';
      ctx.textAlign = 'center';
      ctx.textBaseline = 'middle';
      labels.forEach(items => items.forEach(it => {
        ctx.save();
        ctx.translate(it.x, it.y);
        ctx.rotate(it.ang);
        ctx.fillText(it.text, 0, 0.5);
        ctx.restore();
      }));
      ctx.restore();
    },
    afterDraw(chart) {
      const { ctx, chartArea: a } = chart;
      const cx = (a.left + a.right) / 2;
      ctx.save();
      ctx.fillStyle = '#000';
      ctx.font = 'bold 15px ' + FONT;
      ctx.textAlign = 'center';
      ctx.textBaseline = 'alphabetic';
      ctx.fillText(panel.title, cx, a.top - 5);
      ctx.fillStyle = TXT;
      drawSubText(ctx, '\u03c9', 'low', ' [rad/s]', cx, a.bottom + 37, 16);
      ctx.translate(a.left - 38, a.top + 108);
      ctx.rotate(-Math.PI / 2);
      drawSubText(ctx, '\u03c9', 'high', ' [rad/s]', 0, 0, 17);
      ctx.restore();
    }
  };
}

const host = document.getElementById('grid');
panels.forEach((panel, n) => {
  const cv = document.createElement('canvas');
  cv.width = CANVAS_W;
  cv.height = CANVAS_H;
  cv.style.left = colLeft[n % 3] + 'px';
  cv.style.top = Math.floor(n / 3) * CANVAS_H + 'px';
  cv.style.width = CANVAS_W + 'px';
  cv.style.height = CANVAS_H + 'px';
  host.appendChild(cv);

  new Chart(cv, {
    type: 'scatter',
    data: {
      datasets: panel.lines.map((line, i) => ({
        label: String(panel.levels[i]),
        data: line.map(p => ({ x: p[0], y: p[1] })),
        showLine: true,
        borderColor: LEVEL_COLORS[panel.levels[i]],
        borderWidth: 2,
        borderJoinStyle: 'round',
        pointRadius: 0,
        pointHoverRadius: 0,
        tension: 0,
        fill: false
      }))
    },
    options: {
      responsive: false,
      animation: false,
      devicePixelRatio: 1,
      events: [],
      layout: { padding: { left: 0, top: pad.top, right: pad.right, bottom: 0 } },
      plugins: { legend: { display: false }, tooltip: { enabled: false }, title: { display: false } },
      scales: {
        x: {
          type: 'linear', min: xTicks[0], max: xTicks[xTicks.length - 1],
          afterBuildTicks: s => { s.ticks = xTicks.map(v => ({ value: v })); },
          ticks: { padding: 6, color: TXT, font: { family: FONT, size: 13 }, autoSkip: false, maxRotation: 0,
                   callback: v => String(v) },
          grid: { display: false, drawTicks: false },
          border: { display: false },
          afterFit: s => { s.height = pad.bottom; }
        },
        y: {
          type: 'linear', min: yTicks[0], max: yTicks[yTicks.length - 1],
          afterBuildTicks: s => { s.ticks = yTicks.map(v => ({ value: v })); },
          ticks: { padding: 5, color: TXT, font: { family: FONT, size: 13 }, autoSkip: false,
                   callback: v => String(v) },
          grid: { display: false, drawTicks: false },
          border: { display: false },
          afterFit: s => { s.width = pad.left; }
        }
      }
    },
    plugins: [makePanelPlugin(panel)]
  });
});
</script>
</body>
</html>
